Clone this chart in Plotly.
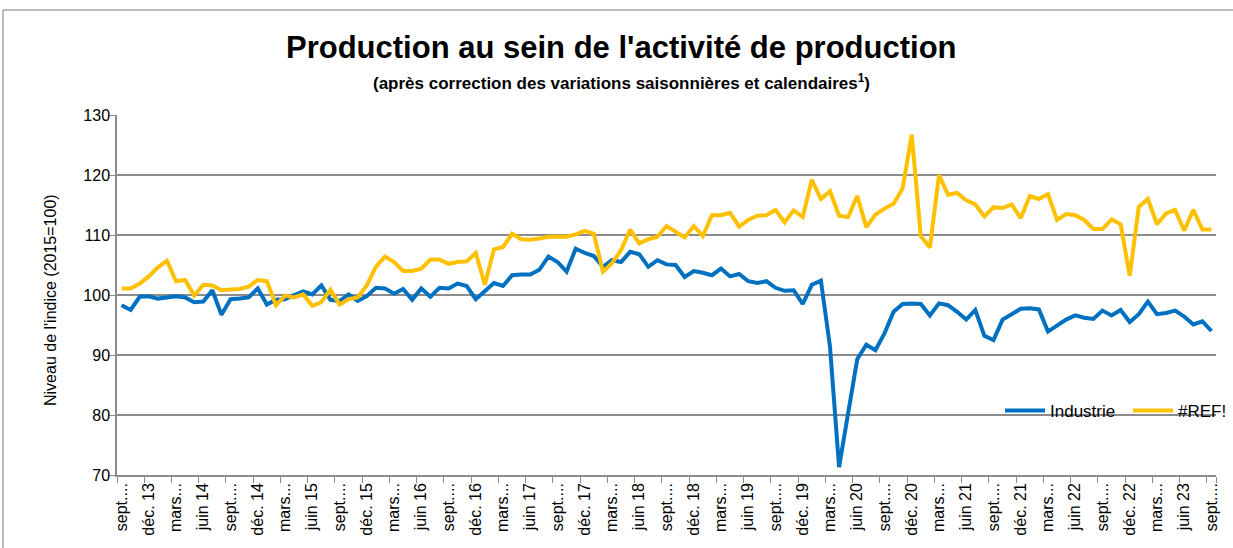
import plotly.graph_objects as go

months_fr = ["janv.", "févr.", "mars", "avr.", "mai", "juin",
             "juil.", "août", "sept.", "oct.", "nov.", "déc."]

# Monthly categories from sept. 2013 to sept. 2023
categories = []
m, y = 8, 13
for _ in range(121):
    categories.append(f"{months_fr[m]} {y}")
    m += 1
    if m == 12:
        m, y = 0, y + 1

industrie = [
    98.3, 97.5, 99.7, 99.8, 99.4, 99.6, 99.8, 99.6, 98.8, 98.9,
    100.8, 96.7, 99.3, 99.4, 99.6, 101.1, 98.4, 99.2, 99.3, 100.0,
    100.6, 100.1, 101.6, 99.2, 99.0, 100.1, 99.0, 99.8, 101.2, 101.1,
    100.2, 101.0, 99.2, 101.1, 99.7, 101.2, 101.1, 101.9, 101.5, 99.3,
    100.7, 102.0, 101.5, 103.3, 103.4, 103.4, 104.2, 106.4, 105.5, 103.9,
    107.7, 107.0, 106.5, 104.7, 105.8, 105.5, 107.2, 106.8, 104.7, 105.8,
    105.1, 105.0, 103.0, 104.0, 103.7, 103.3, 104.4, 103.1, 103.5, 102.3,
    102.0, 102.3, 101.2, 100.7, 100.8, 98.5, 101.7, 102.4, 91.4, 71.3,
    80.3, 89.3, 91.7, 90.8, 93.6, 97.2, 98.5, 98.6, 98.5, 96.6,
    98.6, 98.3, 97.2, 95.9, 97.5, 93.2, 92.5, 95.9, 96.8, 97.7,
    97.8, 97.6, 93.9, 94.9, 95.9, 96.6, 96.2, 96.0, 97.4, 96.6,
    97.5, 95.5, 96.8, 98.9, 96.8, 97.0, 97.4, 96.4, 95.1, 95.6,
    94.0,
]

ref_series = [
    101.1, 101.1, 101.9, 103.1, 104.6, 105.7, 102.3, 102.5, 99.9, 101.7,
    101.6, 100.8, 100.9, 101.0, 101.4, 102.5, 102.3, 98.3, 99.9, 99.6,
    100.1, 98.2, 98.8, 100.9, 98.4, 99.3, 99.6, 101.6, 104.7, 106.4,
    105.5, 104.0, 104.0, 104.4, 105.9, 105.9, 105.2, 105.5, 105.6, 107.0,
    101.7, 107.6, 108.0, 110.2, 109.3, 109.2, 109.4, 109.7, 109.7, 109.7,
    110.1, 110.7, 110.2, 103.9, 105.3, 107.5, 110.9, 108.6, 109.3, 109.7,
    111.5, 110.6, 109.6, 111.5, 109.8, 113.3, 113.3, 113.7, 111.4, 112.5,
    113.2, 113.3, 114.2, 112.1, 114.1, 113.0, 119.2, 116.0, 117.3, 113.2,
    113.0, 116.5, 111.3, 113.4, 114.4, 115.2, 117.8, 126.7, 109.8, 107.9,
    120.0, 116.7, 117.0, 115.8, 115.1, 113.1, 114.6, 114.5, 115.1, 112.8,
    116.5, 116.0, 116.8, 112.5, 113.5, 113.3, 112.5, 111.0, 111.0, 112.6,
    111.8, 103.2, 114.7, 116.0, 111.8, 113.6, 114.2, 110.7, 114.2, 110.9,
    110.9,
]

# Tick labels shown every 3 months (as truncated in the original)
tick_vals = categories[::3]
tick_text = []
for c in tick_vals:
    mon, yy = c.split(" ")
    if mon in ("sept.", "mars"):
        tick_text.append(mon + "...")
    else:
        tick_text.append(c)

series_names = ["Industrie", "#REF!"]
series_colors = ["#0070C0", "#FFC000"]

W, H = 1233, 548
L, R, T, B = 117, 17, 115, 73
pw, ph = W - L - R, H - T - B


def px_x(px):
    return (px - L) / pw


def px_y(py):
    return (H - B - py) / ph


fig = go.Figure()
for name, vals, col in zip(series_names, [industrie, ref_series], series_colors):
    fig.add_trace(go.Scatter(
        x=categories, y=vals, mode="lines", name=name,
        line=dict(color=col, width=4),
    ))

font_family = "Liberation Sans, Arial, sans-serif"

fig.update_layout(
    width=W, height=H, autosize=False,
    margin=dict(l=L, r=R, t=T, b=B, autoexpand=False),
    paper_bgcolor="white", plot_bgcolor="white",
    font=dict(family=font_family, color="black", size=16),
    showlegend=True,
    legend=dict(
        orientation="h", x=px_x(1000), y=px_y(411), xanchor="left", yanchor="middle",
        bgcolor="rgba(0,0,0,0)", font=dict(size=17, family=font_family),
        itemwidth=40, tracegroupgap=0, entrywidth=73, entrywidthmode="pixels",
    ),
    xaxis=dict(
        type="category", categoryorder="array", categoryarray=categories,
        tickmode="array", tickvals=tick_vals, ticktext=tick_text,
        tickangle=-90, tickson="boundaries", ticks="outside", ticklen=6,
        tickcolor="#8C8C8C", showline=True, linecolor="#8C8C8C", linewidth=1.5,
        showgrid=False, zeroline=False, tickfont=dict(size=16),
        range=[-0.5, 120.5],
    ),
    yaxis=dict(
        range=[70, 130], dtick=10, tick0=70, ticks="outside", ticklen=6,
        tickcolor="#8C8C8C", showline=True, linecolor="#8C8C8C", linewidth=1.5,
        showgrid=True, gridcolor="#8C8C8C", gridwidth=1.5, zeroline=False,
        tickfont=dict(size=16), ticklabelstandoff=-4,
    ),
    annotations=[
        dict(text="<b>Production au sein de l'activité de production</b>",
             x=px_x(621), y=px_y(47), xref="paper", yref="paper",
             showarrow=False, xanchor="center", yanchor="middle",
             font=dict(size=31, family=font_family)),
        dict(text="<b>(après correction des variations saisonnières et calendaires<sup>1</sup>)</b>",
             x=px_x(621), y=px_y(82), xref="paper", yref="paper",
             showarrow=False, xanchor="center", yanchor="middle",
             font=dict(size=17, family=font_family)),
        dict(text="Niveau de l'indice (2015=100)",
             x=px_x(50), y=px_y(300), xref="paper", yref="paper",
             showarrow=False, xanchor="center", yanchor="middle", textangle=-90,
             font=dict(size=16, family=font_family)),
    ],
    shapes=[
        dict(type="line", xref="paper", yref="paper",
             x0=px_x(3), x1=px_x(1233), y0=px_y(10), y1=px_y(10),
             line=dict(color="#A6A6A6", width=1.5)),
        dict(type="line", xref="paper", yref="paper",
             x0=px_x(3), x1=px_x(3), y0=px_y(10), y1=px_y(548),
             line=dict(color="#A6A6A6", width=1.5)),
    ],
)

fig.write_html(
    "out.html",
    config={"displayModeBar": False},
    post_script="document.body.style.margin='0';",
)
